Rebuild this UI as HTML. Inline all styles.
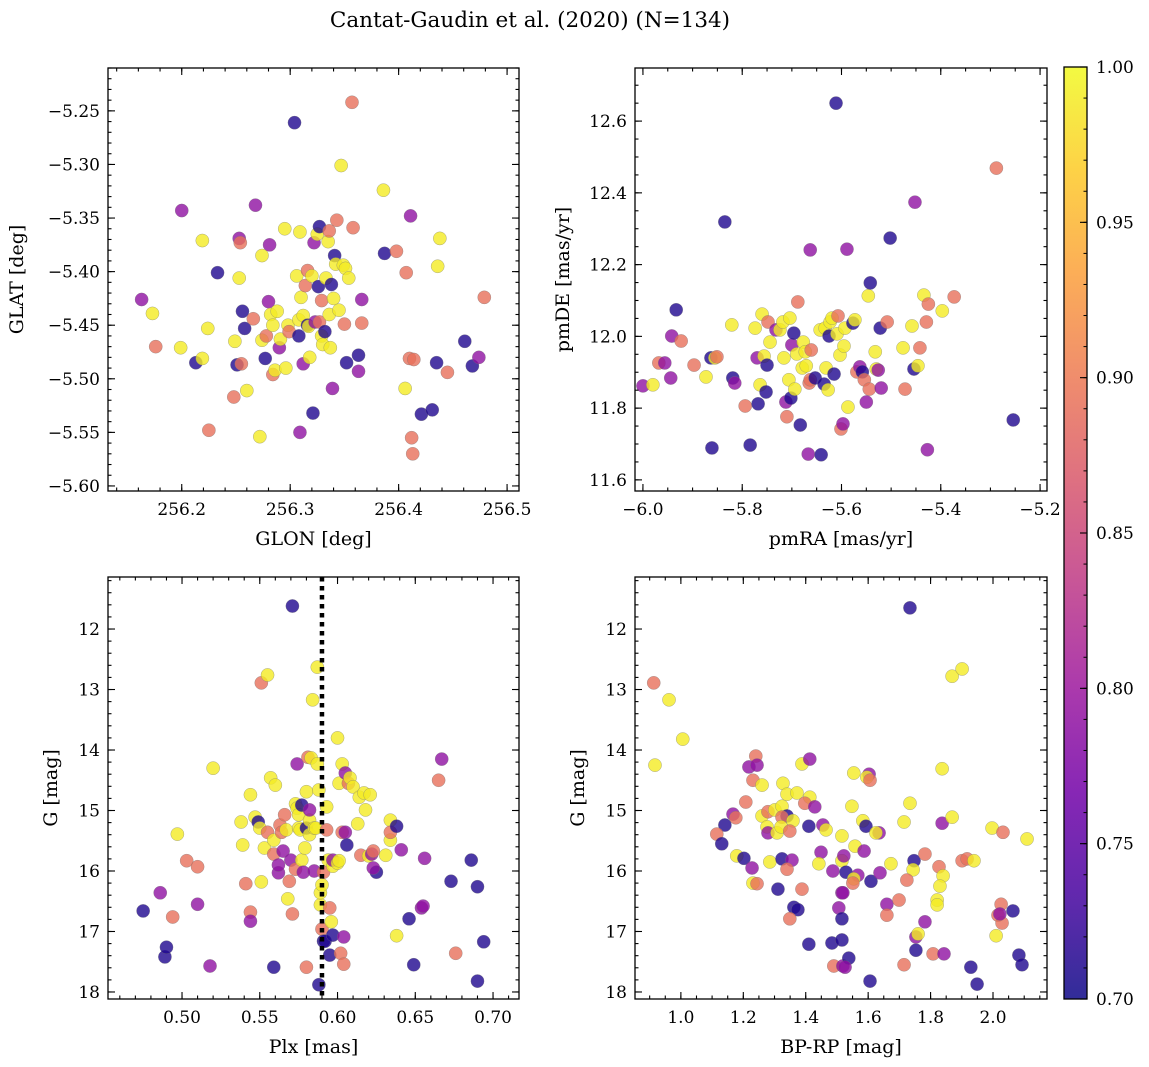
<!DOCTYPE html>
<html><head><meta charset="utf-8">
<style>
html,body{margin:0;padding:0;background:#fff;}
svg{display:block;font-family:"DejaVu Serif","Liberation Serif",serif;}
</style></head>
<body>
<svg id="fig" width="1149" height="1067" viewBox="0 0 1149 1067" xmlns="http://www.w3.org/2000/svg">
<defs>
<linearGradient id="plasma" x1="0" y1="1" x2="0" y2="0">
<stop offset="0" stop-color="#0d0887"/><stop offset="0.111" stop-color="#46039f"/><stop offset="0.222" stop-color="#7201a8"/><stop offset="0.333" stop-color="#9c179e"/><stop offset="0.444" stop-color="#bd3786"/><stop offset="0.556" stop-color="#d8576b"/><stop offset="0.667" stop-color="#ed7953"/><stop offset="0.778" stop-color="#fb9f3a"/><stop offset="0.889" stop-color="#fdca26"/><stop offset="1" stop-color="#f0f921"/>
</linearGradient>
</defs>
<text x="530" y="27" font-size="21.5" text-anchor="middle">Cantat-Gaudin et al. (2020) (N=134)</text>
</svg>
<script>
// [x, y, membership probability]
const glonGlat = [
[256.163,-5.426,.79],[256.173,-5.439,.99],[256.176,-5.470,.89],[256.200,-5.343,.79],[256.199,-5.471,.99],[256.213,-5.485,.71],[256.219,-5.371,.99],[256.224,-5.453,.99],[256.219,-5.481,.99],[256.225,-5.548,.89],
[256.233,-5.401,.71],[256.248,-5.517,.89],[256.249,-5.465,.99],[256.251,-5.487,.71],[256.253,-5.369,.79],[256.254,-5.373,.89],[256.253,-5.406,.99],[256.256,-5.437,.71],[256.255,-5.486,.89],[256.258,-5.453,.71],
[256.260,-5.511,.99],[256.266,-5.444,.89],[256.268,-5.338,.79],[256.272,-5.554,.99],[256.274,-5.385,.99],[256.274,-5.464,.99],[256.277,-5.481,.71],[256.278,-5.460,.89],[256.280,-5.428,.79],[256.281,-5.375,.79],
[256.282,-5.440,.99],[256.284,-5.496,.89],[256.284,-5.450,.99],[256.286,-5.492,.99],[256.288,-5.437,.99],[256.290,-5.471,.79],[256.291,-5.463,.99],[256.295,-5.360,.99],[256.296,-5.490,.99],[256.298,-5.450,.99],
[256.299,-5.456,.89],[256.304,-5.261,.71],[256.306,-5.404,.99],[256.308,-5.460,.71],[256.308,-5.445,.99],[256.309,-5.363,.99],[256.309,-5.550,.79],[256.310,-5.424,.99],[256.312,-5.441,.99],[256.312,-5.486,.79],
[256.314,-5.413,.89],[256.316,-5.399,.89],[256.316,-5.450,.71],[256.317,-5.451,.99],[256.318,-5.480,.99],[256.320,-5.404,.99],[256.321,-5.532,.71],[256.322,-5.373,.79],[256.323,-5.447,.79],[256.325,-5.365,.99],
[256.326,-5.414,.71],[256.327,-5.358,.71],[256.327,-5.447,.89],[256.329,-5.460,.99],[256.329,-5.427,.89],[256.330,-5.468,.99],[256.332,-5.456,.71],[256.333,-5.406,.99],[256.335,-5.372,.99],[256.336,-5.440,.99],
[256.336,-5.362,.89],[256.337,-5.471,.99],[256.338,-5.412,.71],[256.339,-5.509,.79],[256.340,-5.425,.99],[256.341,-5.385,.71],[256.342,-5.393,.99],[256.343,-5.352,.89],[256.345,-5.436,.99],[256.347,-5.301,.99],
[256.349,-5.394,.99],[256.351,-5.397,.99],[256.350,-5.449,.89],[256.352,-5.485,.71],[256.354,-5.406,.99],[256.357,-5.242,.89],[256.358,-5.359,.89],[256.363,-5.493,.79],[256.363,-5.478,.71],[256.366,-5.448,.89],
[256.366,-5.426,.79],[256.386,-5.324,.99],[256.387,-5.383,.71],[256.398,-5.381,.89],[256.407,-5.401,.89],[256.406,-5.509,.99],[256.410,-5.481,.89],[256.411,-5.348,.79],[256.412,-5.555,.89],[256.413,-5.570,.89],
[256.414,-5.482,.89],[256.421,-5.533,.71],[256.431,-5.529,.71],[256.435,-5.485,.71],[256.436,-5.395,.99],[256.438,-5.369,.99],[256.445,-5.494,.89],[256.461,-5.465,.71],[256.468,-5.488,.71],[256.474,-5.480,.79],[256.479,-5.424,.89]
];
const pmraPmde = [
[-6.000,11.862,.79],[-5.980,11.865,.99],[-5.968,11.926,.89],[-5.956,11.926,.79],[-5.944,11.884,.79],[-5.942,12.001,.79],[-5.933,12.074,.71],[-5.923,11.987,.89],[-5.897,11.920,.89],[-5.873,11.887,.99],
[-5.863,11.940,.71],[-5.861,11.689,.71],[-5.855,11.940,.99],[-5.851,11.943,.89],[-5.835,12.319,.71],[-5.821,12.032,.99],[-5.819,11.884,.71],[-5.815,11.870,.79],[-5.794,11.806,.89],[-5.784,11.697,.71],
[-5.774,12.023,.99],[-5.770,11.940,.79],[-5.768,11.812,.71],[-5.764,11.865,.99],[-5.760,12.062,.99],[-5.756,11.945,.99],[-5.752,11.845,.71],[-5.750,11.920,.71],[-5.748,12.040,.89],[-5.744,11.984,.99],
[-5.732,12.018,.79],[-5.724,12.018,.99],[-5.718,12.040,.99],[-5.716,11.940,.99],[-5.712,11.817,.79],[-5.710,11.776,.89],[-5.706,11.879,.99],[-5.704,12.051,.99],[-5.702,11.828,.71],[-5.700,11.976,.79],
[-5.696,12.009,.71],[-5.694,11.853,.99],[-5.690,11.951,.99],[-5.688,12.096,.89],[-5.683,11.753,.71],[-5.679,11.912,.99],[-5.677,11.984,.99],[-5.673,11.957,.99],[-5.671,11.918,.99],[-5.667,11.672,.79],
[-5.665,11.870,.89],[-5.663,11.879,.89],[-5.663,12.241,.79],[-5.661,11.962,.89],[-5.653,11.884,.71],[-5.643,12.018,.99],[-5.641,11.670,.71],[-5.635,11.867,.71],[-5.633,12.023,.99],[-5.631,11.912,.99],
[-5.627,11.851,.99],[-5.625,12.001,.71],[-5.623,12.040,.99],[-5.619,12.051,.99],[-5.615,11.895,.71],[-5.611,12.650,.71],[-5.609,12.007,.99],[-5.607,12.057,.89],[-5.603,11.948,.99],[-5.601,11.742,.89],
[-5.597,11.756,.79],[-5.595,11.973,.99],[-5.593,12.023,.99],[-5.589,12.243,.79],[-5.587,11.803,.99],[-5.577,12.037,.71],[-5.573,12.046,.99],[-5.569,11.901,.89],[-5.563,11.915,.79],[-5.558,11.901,.71],
[-5.554,11.879,.89],[-5.550,11.817,.79],[-5.546,12.113,.99],[-5.544,11.853,.89],[-5.542,12.149,.71],[-5.532,11.957,.99],[-5.530,11.909,.99],[-5.526,11.906,.79],[-5.522,12.023,.71],[-5.520,11.856,.79],
[-5.508,12.040,.89],[-5.502,12.274,.71],[-5.476,11.968,.99],[-5.472,11.853,.89],[-5.458,12.029,.99],[-5.454,11.909,.71],[-5.452,12.374,.79],[-5.446,11.918,.99],[-5.442,11.968,.89],[-5.434,12.115,.99],
[-5.429,12.040,.89],[-5.425,12.090,.89],[-5.427,11.684,.79],[-5.397,12.071,.99],[-5.373,12.110,.89],[-5.288,12.469,.89],[-5.254,11.767,.71]
];
const plxG = [
[0.475,16.66,.71],[0.486,16.36,.79],[0.489,17.42,.71],[0.490,17.26,.71],[0.494,16.76,.89],[0.497,15.39,.99],[0.503,15.83,.89],[0.510,15.93,.89],[0.510,16.55,.79],[0.518,17.57,.79],
[0.520,14.30,.99],[0.538,15.19,.99],[0.539,15.57,.99],[0.541,16.21,.89],[0.544,16.68,.89],[0.544,16.83,.79],[0.544,14.74,.99],[0.547,15.11,.99],[0.549,15.19,.71],[0.550,15.29,.99],
[0.551,12.89,.89],[0.551,16.18,.99],[0.553,15.62,.99],[0.555,12.76,.99],[0.555,15.36,.89],[0.557,14.46,.99],[0.559,15.72,.89],[0.559,15.49,.99],[0.559,17.59,.71],[0.560,14.58,.99],
[0.562,16.03,.79],[0.562,15.90,.79],[0.563,15.24,.89],[0.564,15.36,.89],[0.565,15.67,.79],[0.566,15.07,.89],[0.567,15.32,.99],[0.568,16.46,.99],[0.569,16.17,.89],[0.570,15.82,.79],
[0.571,11.62,.71],[0.571,16.71,.89],[0.573,15.97,.89],[0.573,14.89,.99],[0.574,14.23,.79],[0.574,14.96,.99],[0.575,15.07,.99],[0.575,15.29,.99],[0.576,15.32,.99],[0.577,14.91,.71],
[0.577,15.82,.99],[0.578,16.02,.79],[0.579,15.62,.99],[0.580,15.29,.71],[0.580,14.69,.99],[0.580,17.59,.89],[0.581,14.12,.89],[0.582,15.40,.99],[0.582,15.16,.99],[0.582,14.99,.79],
[0.583,14.13,.99],[0.584,13.17,.99],[0.585,15.29,.99],[0.585,16.00,.79],[0.586,15.29,.99],[0.587,12.63,.99],[0.587,14.23,.99],[0.588,14.66,.99],[0.588,17.88,.71],[0.589,16.56,.99],
[0.589,16.36,.99],[0.590,16.96,.89],[0.590,16.23,.99],[0.591,17.16,.71],[0.591,16.02,.89],[0.592,17.16,.71],[0.593,15.32,.89],[0.593,14.94,.99],[0.594,15.82,.99],[0.595,16.61,.89],
[0.595,17.39,.71],[0.596,16.84,.99],[0.597,17.06,.71],[0.597,15.92,.99],[0.597,15.82,.79],[0.600,15.87,.99],[0.600,13.80,.99],[0.601,15.83,.99],[0.601,14.55,.99],[0.602,17.36,.89],
[0.603,14.23,.99],[0.603,15.36,.89],[0.604,17.09,.79],[0.604,17.54,.89],[0.605,15.36,.79],[0.605,14.38,.79],[0.606,15.57,.71],[0.607,14.55,.89],[0.608,14.46,.99],[0.610,14.61,.99],
[0.613,15.22,.99],[0.614,14.78,.99],[0.615,15.74,.89],[0.617,14.71,.99],[0.618,14.99,.99],[0.620,15.75,.99],[0.621,14.74,.99],[0.622,15.72,.79],[0.623,15.67,.89],[0.625,16.02,.71],
[0.623,15.95,.79],[0.631,15.74,.99],[0.634,15.49,.99],[0.634,15.16,.99],[0.634,15.36,.89],[0.638,17.07,.99],[0.638,15.26,.71],[0.641,15.65,.79],[0.646,16.79,.71],[0.649,17.55,.71],
[0.654,16.61,.79],[0.655,16.58,.79],[0.656,15.79,.79],[0.665,14.50,.89],[0.667,14.15,.79],[0.676,17.36,.89],[0.673,16.17,.71],[0.686,15.82,.71],[0.690,16.26,.71],[0.690,17.82,.71],[0.694,17.17,.71]
];
const bprpG = [
[0.913,12.89,.89],[0.962,13.17,.99],[1.006,13.82,.99],[0.917,14.25,.99],[1.240,14.10,.89],[1.218,14.28,.79],[1.244,14.25,.79],[1.388,14.23,.99],[1.413,14.15,.79],[1.231,14.50,.89],
[1.260,14.58,.99],[1.327,14.55,.99],[1.340,14.73,.99],[1.372,14.71,.99],[1.413,14.78,.99],[1.397,14.88,.89],[1.429,14.94,.79],[1.208,14.86,.89],[1.167,15.06,.79],[1.176,15.12,.89],
[1.141,15.24,.71],[1.115,15.39,.89],[1.131,15.55,.71],[1.260,15.09,.99],[1.279,15.02,.89],[1.301,14.99,.99],[1.324,14.93,.99],[1.340,15.09,.71],[1.324,15.11,.89],[1.359,15.17,.99],
[1.276,15.27,.99],[1.279,15.37,.79],[1.308,15.37,.99],[1.321,15.27,.99],[1.349,15.34,.89],[1.410,15.26,.71],[1.455,15.24,.79],[1.465,15.32,.99],[1.516,15.42,.99],[1.179,15.75,.99],
[1.202,15.79,.71],[1.228,15.95,.79],[1.285,15.85,.99],[1.324,15.80,.71],[1.356,15.82,.79],[1.340,15.97,.89],[1.449,15.69,.79],[1.442,15.88,.99],[1.487,16.00,.79],[1.516,15.83,.99],
[1.231,16.20,.99],[1.244,16.21,.89],[1.311,16.30,.71],[1.388,16.30,.89],[1.516,16.36,.79],[1.362,16.60,.71],[1.375,16.64,.71],[1.349,16.79,.89],[1.506,16.61,.79],[1.516,16.79,.71],
[1.410,17.21,.71],[1.484,17.19,.71],[1.516,17.14,.71],[1.490,17.57,.89],[1.519,17.57,.79],[1.734,11.65,.71],[1.869,12.78,.99],[1.901,12.66,.99],[1.554,14.38,.99],[1.603,14.40,.79],
[1.596,14.45,.99],[1.606,14.50,.89],[1.837,14.31,.99],[1.548,14.93,.99],[1.734,14.88,.99],[1.583,15.17,.99],[1.593,15.26,.71],[1.635,15.37,.79],[1.625,15.37,.99],[1.715,15.19,.99],
[1.837,15.21,.79],[1.869,15.11,.99],[1.997,15.29,.99],[2.032,15.36,.89],[2.109,15.47,.99],[1.558,15.59,.99],[1.587,15.67,.79],[1.522,15.75,.79],[1.673,15.88,.99],[1.747,15.83,.71],
[1.782,15.72,.89],[1.744,15.98,.99],[1.827,15.93,.89],[1.840,16.08,.99],[1.901,15.83,.89],[1.917,15.80,.89],[1.939,15.83,.99],[1.529,16.02,.71],[1.567,16.07,.79],[1.554,16.13,.99],
[1.551,16.20,.89],[1.609,16.17,.71],[1.638,16.03,.79],[1.724,16.15,.89],[1.830,16.25,.99],[1.519,16.36,.79],[1.660,16.55,.79],[1.660,16.73,.89],[1.699,16.48,.89],[1.821,16.48,.99],
[1.821,16.56,.99],[2.026,16.55,.89],[2.016,16.73,.89],[2.029,16.86,.89],[2.022,16.71,.79],[2.064,16.66,.71],[1.782,16.84,.79],[1.753,17.09,.79],[1.760,17.04,.99],[2.010,17.07,.99],
[1.753,17.31,.71],[1.808,17.37,.89],[1.843,17.37,.79],[1.538,17.44,.71],[1.526,17.59,.79],[1.715,17.55,.89],[1.606,17.82,.71],[1.929,17.59,.71],[1.949,17.87,.71],[2.083,17.39,.71],[2.093,17.55,.71]
];
const p1XTicks=[256.2,256.3,256.4,256.5], p1YTicks=[-5.25,-5.30,-5.35,-5.40,-5.45,-5.50,-5.55,-5.60];
const p2XTicks=[-6.0,-5.8,-5.6,-5.4,-5.2], p2YTicks=[11.6,11.8,12.0,12.2,12.4,12.6];
const p3XTicks=[0.50,0.55,0.60,0.65,0.70], gTicks=[12,13,14,15,16,17,18];
const p4XTicks=[1.0,1.2,1.4,1.6,1.8,2.0];
const cbTicks=[0.70,0.75,0.80,0.85,0.90,0.95,1.00];
const meanPlx=0.590;
const probMin=0.70, probMax=1.00;

const NS="http://www.w3.org/2000/svg";
const svg=document.getElementById('fig');
const stops=[[13,8,135],[70,3,159],[114,1,168],[156,23,158],[189,55,134],[216,87,107],[237,121,83],[251,159,58],[253,202,38],[240,249,33]];
function plasma(t){t=Math.max(0,Math.min(1,t));const f=t*9,i=Math.min(8,Math.floor(f)),u=f-i;const a=stops[i],b=stops[i+1];return 'rgb('+a.map((v,k)=>Math.round(v+(b[k]-v)*u)).join(',')+')';}
function mk(tag,attrs,parent){const e=document.createElementNS(NS,tag);for(const k in attrs)e.setAttribute(k,attrs[k]);(parent||svg).appendChild(e);return e;}
function fmt(v,d){let s=v.toFixed(d);return s.replace('-','\u2212');}

function panel(cfg){
  const {L,T,W,H,xmin,xmax,ymin,ymax,inv,name}=cfg;
  const sx=v=>L+(v-xmin)/(xmax-xmin)*W;
  const sy=inv? v=>T+(v-ymin)/(ymax-ymin)*H : v=>T+H-(v-ymin)/(ymax-ymin)*H;
  const g=mk('g',{});
  
  
  const pg=mk('g',{},g);
  
  
  cfg.data.forEach(d=>{
    const c=mk('circle',{cx:sx(d[0]),cy:sy(d[1]),r:6.6,fill:plasma((d[2]-probMin)/(probMax-probMin)),'fill-opacity':0.8,stroke:'#777','stroke-width':0.5,'stroke-opacity':0.6},pg);
    
    
  });
  if(cfg.vline!==undefined){
    const l=mk('line',{x1:sx(cfg.vline),x2:sx(cfg.vline),y1:T,y2:T+H,stroke:'#000','stroke-width':4.5,'stroke-dasharray':'4.5,4.5'},g);
    
    
  }
  const fr=mk('rect',{x:L,y:T,width:W,height:H,fill:'none',stroke:'#000','stroke-width':1.3},g);
  
  
  const tg=mk('g',{stroke:'#000','stroke-width':1.1},g);
  for(let v=Math.ceil(xmin/cfg.xm-1e-9)*cfg.xm; v<=xmax; v+=cfg.xm){const x=sx(v);mk('line',{x1:x,x2:x,y1:T+H,y2:T+H-3.5},tg);mk('line',{x1:x,x2:x,y1:T,y2:T+3.5},tg);}
  const y0=Math.min(ymin,ymax),y1=Math.max(ymin,ymax);
  for(let v=Math.ceil(y0/cfg.ym-1e-9)*cfg.ym; v<=y1; v+=cfg.ym){const y=sy(v);mk('line',{x1:L,x2:L+3.5,y1:y,y2:y},tg);mk('line',{x1:L+W,x2:L+W-3.5,y1:y,y2:y},tg);}
  cfg.xt.forEach(v=>{const x=sx(v);mk('line',{x1:x,x2:x,y1:T+H,y2:T+H-7},tg);mk('line',{x1:x,x2:x,y1:T,y2:T+7},tg);
    const t=mk('text',{x:x,y:T+H+24,'font-size':17,'text-anchor':'middle'},g);t.textContent=fmt(v,cfg.xd);
    });
  cfg.yt.forEach(v=>{const y=sy(v);mk('line',{x1:L,x2:L+7,y1:y,y2:y},tg);mk('line',{x1:L+W,x2:L+W-7,y1:y,y2:y},tg);
    const t=mk('text',{x:L-8,y:y+6,'font-size':17,'text-anchor':'end'},g);t.textContent=fmt(v,cfg.yd);
    });
  const xl=mk('text',{x:L+W/2,y:T+H+54,'font-size':19,'text-anchor':'middle'},g);xl.textContent=cfg.xlabel;
  
  const yl=mk('text',{x:0,y:0,'font-size':19,'text-anchor':'middle',transform:'translate('+cfg.ylx+','+(T+H/2)+') rotate(-90)'},g);yl.textContent=cfg.ylabel;
  
}
panel({name:'glon-glat-panel',L:108,T:68,W:411,H:423,xmin:256.132,xmax:256.511,ymin:-5.6047,ymax:-5.210,xt:p1XTicks,yt:p1YTicks,xm:0.02,ym:0.01,xd:1,yd:2,data:glonGlat,xlabel:'GLON [deg]',ylabel:'GLAT [deg]',ylx:23});
panel({name:'pm-panel',L:635,T:68,W:412,H:423,xmin:-6.016,xmax:-5.186,ymin:11.569,ymax:12.748,xt:p2XTicks,yt:p2YTicks,xm:0.05,ym:0.05,xd:1,yd:1,data:pmraPmde,xlabel:'pmRA [mas/yr]',ylabel:'pmDE [mas/yr]',ylx:569});
panel({name:'plx-g-panel',L:108,T:577,W:411,H:422,xmin:0.4524,xmax:0.7167,ymin:11.14,ymax:18.116,inv:true,xt:p3XTicks,yt:gTicks,xm:0.01,ym:0.2,xd:2,yd:0,data:plxG,vline:meanPlx,xlabel:'Plx [mas]',ylabel:'G [mag]',ylx:57});
panel({name:'cmd-panel',L:635,T:577,W:412,H:422,xmin:0.853,xmax:2.173,ymin:11.14,ymax:18.116,inv:true,xt:p4XTicks,yt:gTicks,xm:0.05,ym:0.2,xd:1,yd:0,data:bprpG,xlabel:'BP-RP [mag]',ylabel:'G [mag]',ylx:584});

(function(){
  const L=1064,T=67,W=23,H=932;
  const g=mk('g',{});
  
  
  mk('rect',{x:L,y:T,width:W,height:H,fill:'url(#plasma)','fill-opacity':0.85},g);
  mk('rect',{x:L,y:T,width:W,height:H,fill:'none',stroke:'#000','stroke-width':1.3},g);
  const sy=v=>T+H-(v-probMin)/(probMax-probMin)*H;
  for(let i=0;i<=30;i++){const v=probMin+i*0.01,y=sy(v);mk('line',{x1:L+W,x2:L+W-3.5,y1:y,y2:y,stroke:'#000','stroke-width':1},g);}
  cbTicks.forEach(v=>{const y=sy(v);mk('line',{x1:L+W,x2:L+W-7,y1:y,y2:y,stroke:'#000','stroke-width':1.1},g);
    const t=mk('text',{x:L+W+9,y:y+6,'font-size':17},g);t.textContent=v.toFixed(2);
    });
})();
</script>
</body></html>
